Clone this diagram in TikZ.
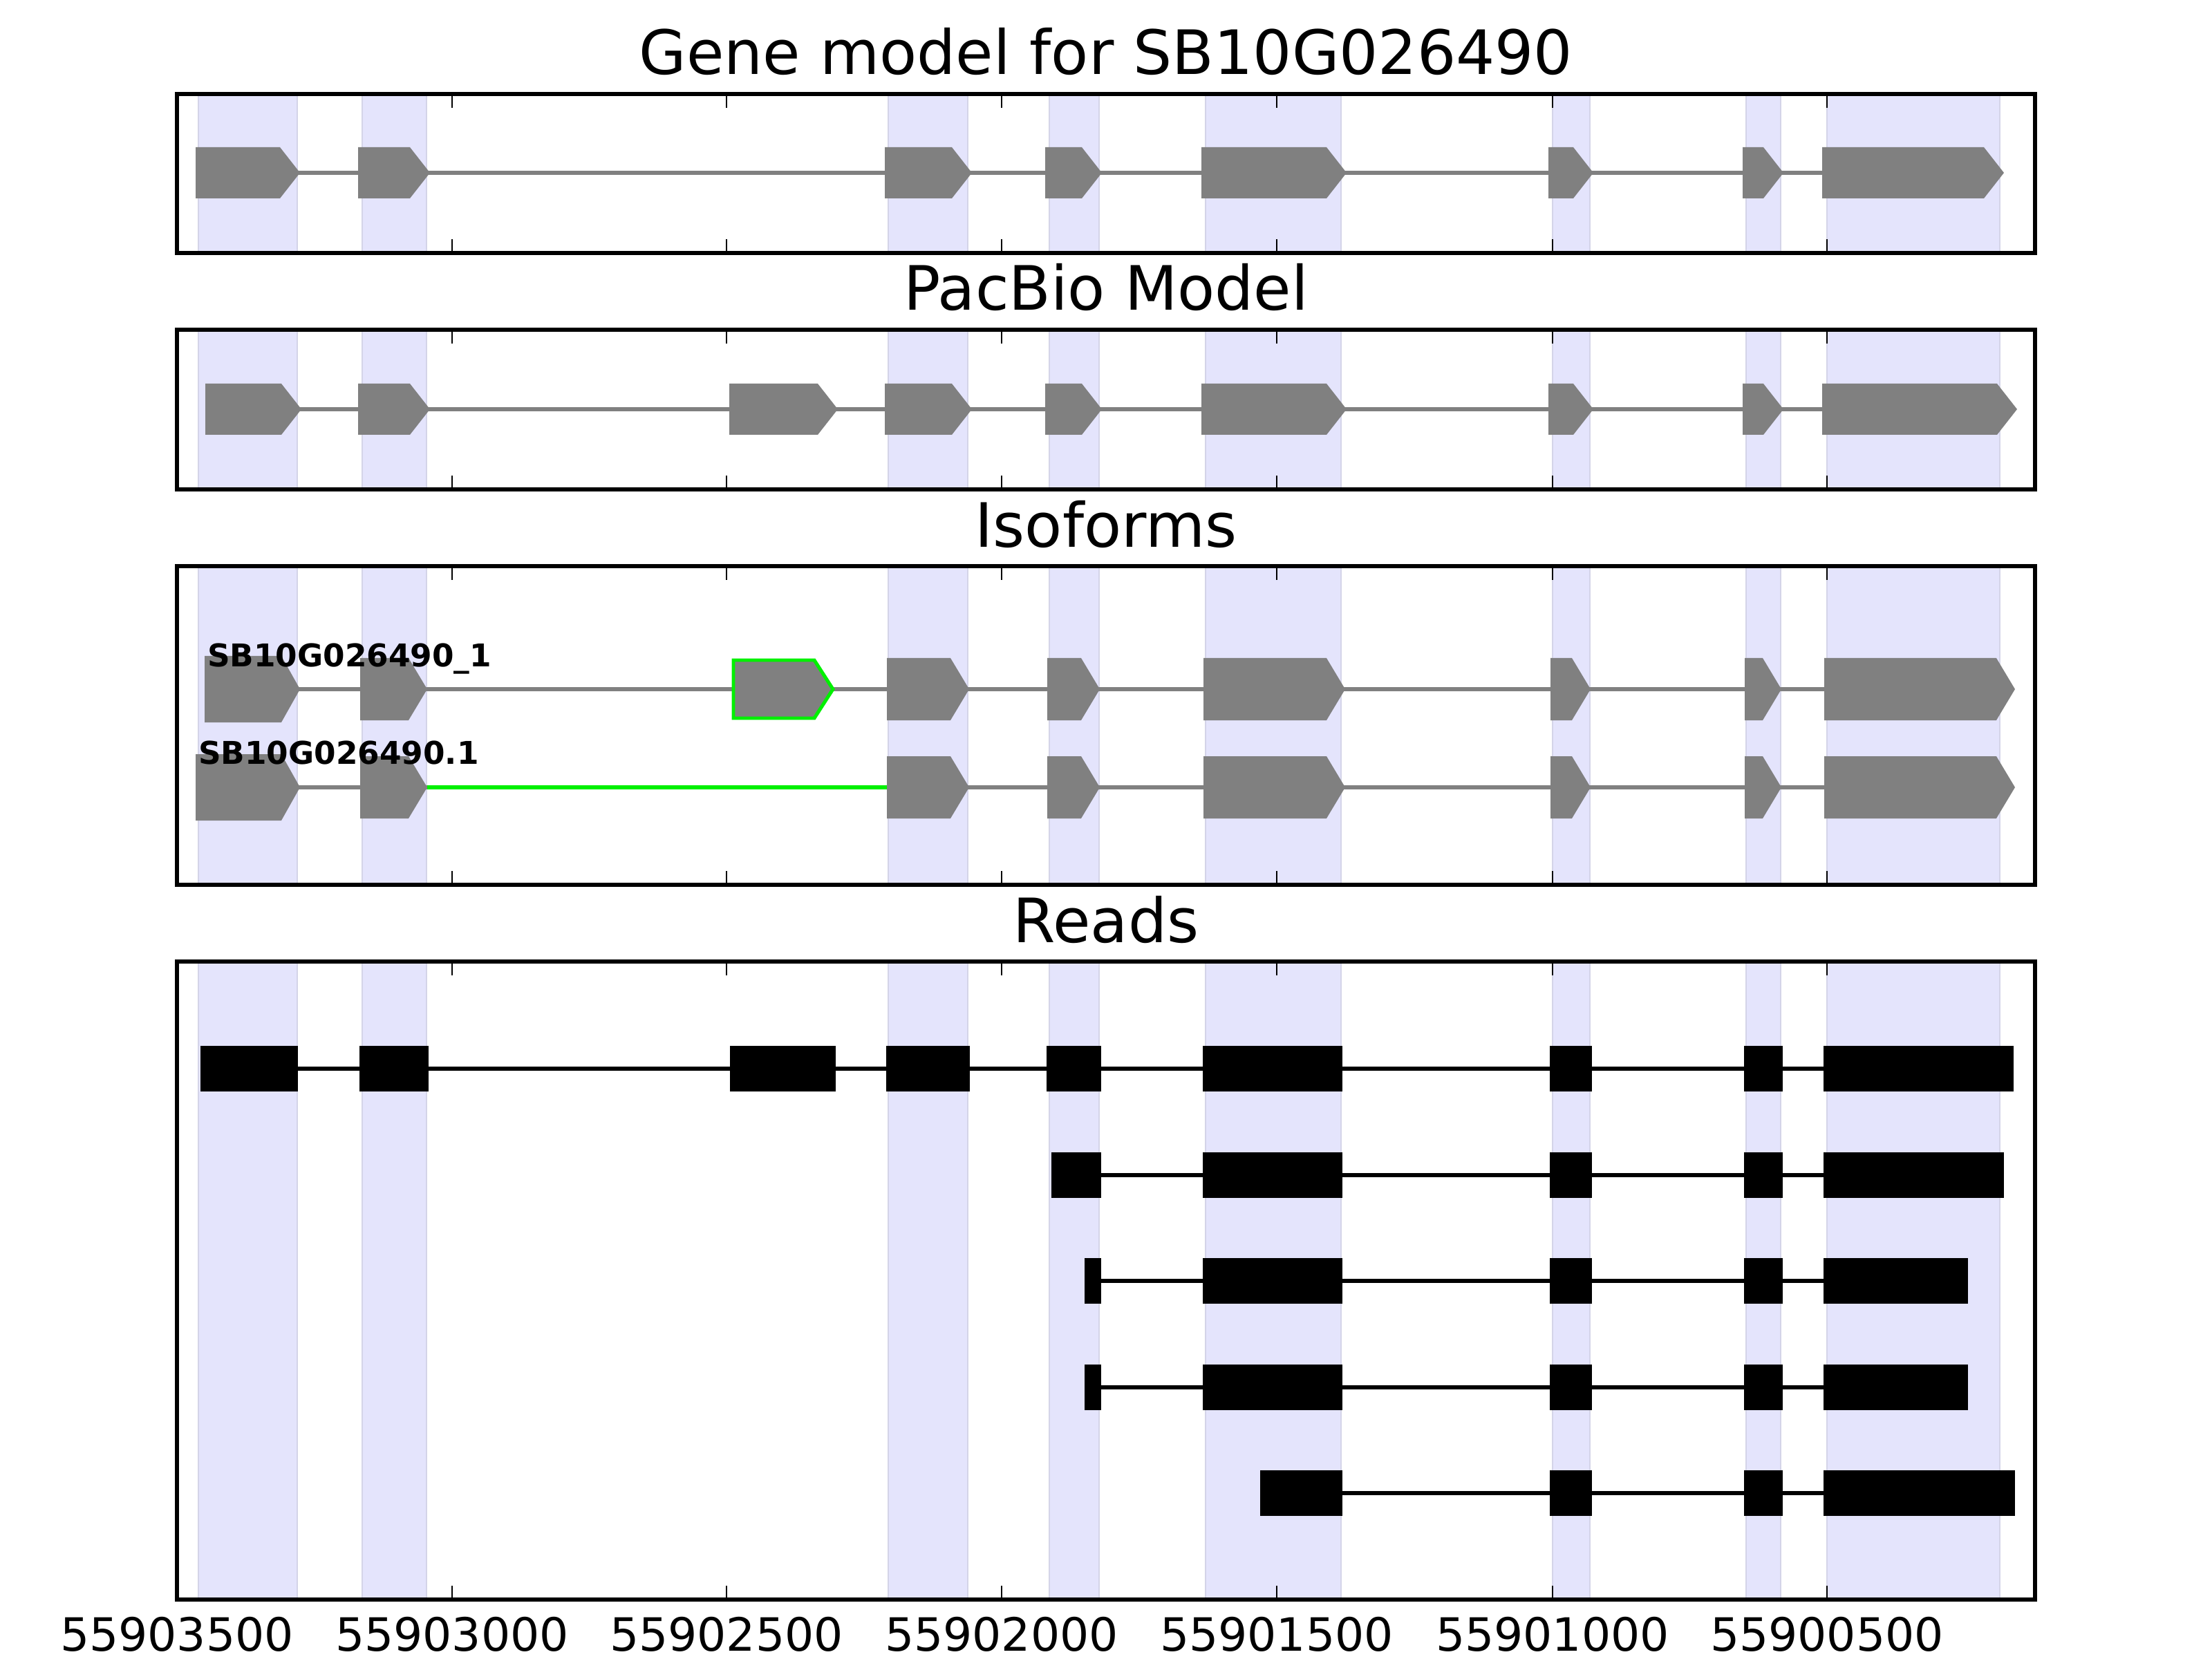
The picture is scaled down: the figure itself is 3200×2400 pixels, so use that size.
\documentclass[tikz,border=0pt]{standalone}
\usepackage{fontspec}
\setmainfont{DejaVu Sans}
\definecolor{exongray}{RGB}{128,128,128}
\definecolor{newgreen}{RGB}{0,240,0}
\definecolor{bandfill}{RGB}{228,228,252}
\definecolor{bandedge}{RGB}{212,212,232}

% one exon drawn as a flat arrow: start, tip, centre, half height
\newcommand{\headlen}{29}
\newcommand{\exonarrow}[5][exonshape]{%
  \path[#1] (#2,{#4-#5}) -- ({#3-\headlen},{#4-#5}) -- (#3,#4)
    -- ({#3-\headlen},{#4+#5}) -- (#2,{#4+#5}) -- cycle;}

\begin{document}
\begin{tikzpicture}
        [x=0.0025in, y=-0.0025in,
        frame/.style={draw=black, line width=1.1pt},
        band/.style={fill=bandfill, draw=bandedge, line width=0.4pt},
        tick/.style={black, line width=0.5pt},
        intron/.style={exongray, line width=1pt},
        newintron/.style={newgreen, line width=1.1pt},
        exonshape/.style={fill=exongray},
        newexon/.style={fill=exongray, draw=newgreen, line width=0.9pt},
        readline/.style={black, line width=1pt},
        readblock/.style={fill=black},
        title/.style={font=\fontsize{16}{19}\selectfont, anchor=base},
        ticklabel/.style={font=\fontsize{12}{14}\selectfont, anchor=base},
        isolabel/.style={font=\fontsize{8.2}{10}\selectfont\bfseries, anchor=base west, inner sep=0pt}]

        \useasboundingbox (0,0) rectangle (3200,2400);

        % shaded exon columns and ticks of every panel
        \foreach \ptop/\pbot in {136/366, 477/708, 819/1280, 1391/2314} {
          \foreach \a/\b in {287/430, 524/617, 1285/1400, 1518/1590, 1744/1940, 2246/2300, 2526/2576, 2643/2893}
            \draw[band] (\a,\ptop) rectangle (\b,\pbot);
          \foreach \t in {256, 654, 1051, 1449, 1847, 2246, 2643} {
            \draw[tick] (\t,\ptop) -- (\t,\ptop+20);
            \draw[tick] (\t,\pbot) -- (\t,\pbot-20);
          }
        }

        % panel titles
        \node[title] (tgene) at (1600,108) {Gene model for SB10G026490};
        \node[title] (tpacbio) at (1600,449) {PacBio Model};
        \node[title] (tiso) at (1600,791) {Isoforms};
        \node[title] (treads) at (1600,1363) {Reads};

        % gene model
        \draw[intron] (283,250) -- (2636,250);
        \foreach \s/\e in {283/434, 518/622, 1280/1406, 1512/1594, 1738/1948, 2240/2305, 2521/2580, 2636/2899}
          \exonarrow{\s}{\e}{250}{37};

        % pacbio model
        \draw[intron] (297,592) -- (2636,592);
        \foreach \s/\e in {297/436, 518/622, 1055/1212, 1280/1406, 1512/1594, 1738/1948, 2240/2305, 2521/2580, 2636/2918}
          \exonarrow{\s}{\e}{592}{37};

        % isoforms
        \renewcommand{\headlen}{27}
        \draw[intron] (296,997) -- (2639,997);
        \exonarrow{296}{434}{997}{48}
        \foreach \s/\e in {521/618, 1283/1402, 1515/1591, 1741/1946, 2243/2301, 2524/2577, 2639/2915}
          \exonarrow{\s}{\e}{997}{45};
        \exonarrow[newexon]{1061}{1205}{997}{42}
        \node[isolabel] (iso1) at (299,964) {SB10G026490\_1};

        \draw[intron] (283,1139) -- (2639,1139);
        \draw[newintron] (618,1139) -- (1287,1139);
        \exonarrow{283}{434}{1139}{48}
        \foreach \s/\e in {521/618, 1283/1402, 1515/1591, 1741/1946, 2243/2301, 2524/2577, 2639/2915}
          \exonarrow{\s}{\e}{1139}{45};
        \node[isolabel] (iso2) at (286,1106) {SB10G026490.1};

        % reads
        \foreach \y/\lo/\hi/\blocks in {
            1546/290/2638/{290/431, 520/620, 1056/1209, 1282/1403, 1514/1593, 1740/1942, 2242/2303, 2523/2579, 2638/2913},
            1700/1521/2638/{1521/1593, 1740/1942, 2242/2303, 2523/2579, 2638/2899},
            1853/1569/2638/{1569/1593, 1740/1942, 2242/2303, 2523/2579, 2638/2847},
            2007/1569/2638/{1569/1593, 1740/1942, 2242/2303, 2523/2579, 2638/2847},
            2160/1823/2638/{1823/1942, 2242/2303, 2523/2579, 2638/2915}} {
          \draw[readline] (\lo,\y) -- (\hi,\y);
          \foreach \s/\e in \blocks
            \fill[readblock] (\s,\y-33) rectangle (\e,\y+33);
        }

        % axis labels
        \foreach \t/\lab in {256/55903500, 654/55903000, 1051/55902500, 1449/55902000, 1847/55901500, 2246/55901000, 2643/55900500}
          \node[ticklabel] (l\lab) at (\t,2388) {\lab};

        % panel frames
        \foreach \ptop/\pbot in {136/366, 477/708, 819/1280, 1391/2314}
          \draw[frame] (256,\ptop) rectangle (2944,\pbot);
\end{tikzpicture}
\end{document}
